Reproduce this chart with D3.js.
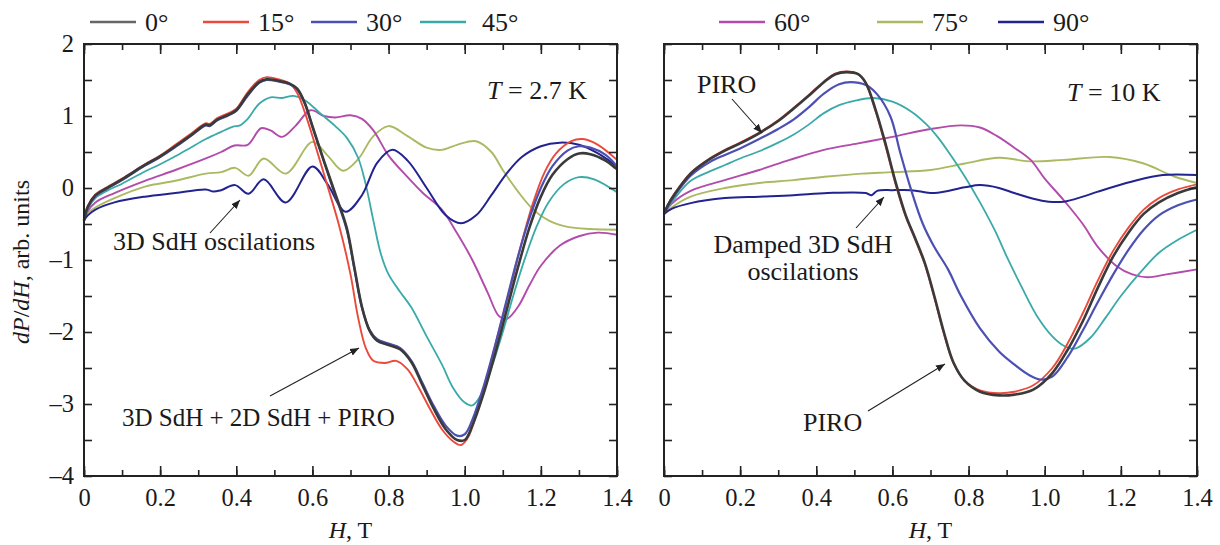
<!DOCTYPE html>
<html>
<head>
<meta charset="utf-8">
<script src="https://cdn.jsdelivr.net/npm/d3@7/dist/d3.min.js"></script>
<style>
  html, body { margin: 0; padding: 0; background: #fff; }
  svg { display: block; font-family: "Liberation Serif", "Times New Roman", serif; }
</style>
</head>
<body>
<svg id="chart" width="1220" height="545"></svg>
<script>
// ---- data: dP/dH (arb. units) versus H (T) for each tilt angle ----
const angleLabels = ["0°", "15°", "30°", "45°", "60°", "75°", "90°"];
const xTickValues = [0, 0.2, 0.4, 0.6, 0.8, 1.0, 1.2, 1.4];
const yTickValues = [2, 1, 0, -1, -2, -3, -4];
const yTickLabels = ["2", "1", "0", "–1", "–2", "–3", "–4"];

// T = 2.7 K
const cold0 = [[0,-0.45],[0.01,-0.26],[0.03,-0.1],[0.06,0.0],[0.1,0.12],[0.16,0.32],[0.2,0.44],[0.24,0.58],[0.28,0.73],[0.32,0.88],[0.33,0.87],[0.35,0.95],[0.38,1.02],[0.4,1.08],[0.43,1.3],[0.46,1.47],[0.48,1.51],[0.51,1.49],[0.54,1.45],[0.56,1.38],[0.58,1.18],[0.6,0.86],[0.63,0.38],[0.66,-0.08],[0.69,-0.55],[0.71,-1.1],[0.73,-1.65],[0.75,-1.98],[0.77,-2.12],[0.8,-2.18],[0.83,-2.24],[0.86,-2.42],[0.89,-2.75],[0.92,-3.08],[0.95,-3.35],[0.98,-3.5],[1.0,-3.5],[1.02,-3.3],[1.05,-2.85],[1.08,-2.3],[1.11,-1.7],[1.14,-1.1],[1.17,-0.55],[1.2,-0.12],[1.23,0.18],[1.27,0.4],[1.3,0.48],[1.33,0.47],[1.37,0.38],[1.4,0.26]];
const cold15 = [[0,-0.45],[0.01,-0.25],[0.03,-0.09],[0.06,0.01],[0.1,0.13],[0.16,0.33],[0.2,0.45],[0.24,0.6],[0.28,0.75],[0.32,0.9],[0.33,0.89],[0.35,0.97],[0.38,1.04],[0.4,1.1],[0.43,1.33],[0.46,1.5],[0.48,1.54],[0.51,1.51],[0.54,1.45],[0.56,1.32],[0.58,1.05],[0.61,0.55],[0.64,0.02],[0.67,-0.52],[0.7,-1.2],[0.72,-1.8],[0.74,-2.22],[0.76,-2.4],[0.79,-2.43],[0.82,-2.4],[0.85,-2.52],[0.88,-2.78],[0.91,-3.08],[0.94,-3.35],[0.97,-3.52],[0.99,-3.57],[1.01,-3.45],[1.03,-3.15],[1.06,-2.6],[1.09,-1.98],[1.12,-1.38],[1.15,-0.75],[1.18,-0.2],[1.21,0.22],[1.24,0.48],[1.28,0.65],[1.31,0.68],[1.35,0.6],[1.4,0.39]];
const cold30 = [[0,-0.45],[0.01,-0.27],[0.03,-0.11],[0.06,-0.01],[0.1,0.11],[0.16,0.31],[0.2,0.43],[0.24,0.57],[0.28,0.72],[0.32,0.87],[0.33,0.86],[0.35,0.94],[0.38,1.01],[0.4,1.07],[0.43,1.28],[0.46,1.46],[0.48,1.5],[0.51,1.48],[0.54,1.44],[0.56,1.37],[0.58,1.17],[0.6,0.85],[0.63,0.37],[0.66,-0.1],[0.69,-0.58],[0.71,-1.12],[0.73,-1.66],[0.75,-1.97],[0.77,-2.1],[0.8,-2.16],[0.83,-2.22],[0.86,-2.4],[0.89,-2.72],[0.92,-3.04],[0.95,-3.3],[0.98,-3.44],[1.0,-3.42],[1.02,-3.22],[1.05,-2.75],[1.08,-2.18],[1.11,-1.56],[1.14,-0.95],[1.17,-0.42],[1.2,0.0],[1.23,0.3],[1.27,0.52],[1.3,0.58],[1.33,0.56],[1.37,0.46],[1.4,0.3]];
const cold45 = [[0,-0.45],[0.01,-0.29],[0.03,-0.14],[0.06,-0.04],[0.1,0.06],[0.16,0.23],[0.2,0.33],[0.24,0.44],[0.28,0.56],[0.32,0.68],[0.36,0.78],[0.39,0.85],[0.41,0.87],[0.43,0.96],[0.46,1.17],[0.49,1.26],[0.52,1.25],[0.55,1.28],[0.58,1.22],[0.62,1.04],[0.66,0.86],[0.69,0.7],[0.72,0.42],[0.74,0.05],[0.76,-0.45],[0.78,-0.92],[0.8,-1.2],[0.83,-1.44],[0.86,-1.66],[0.9,-2.06],[0.94,-2.45],[0.97,-2.78],[1.0,-2.98],[1.02,-3.02],[1.04,-2.9],[1.07,-2.5],[1.1,-2.0],[1.13,-1.45],[1.16,-0.95],[1.19,-0.52],[1.22,-0.2],[1.26,0.05],[1.3,0.15],[1.34,0.12],[1.4,-0.06]];
const cold60 = [[0,-0.45],[0.01,-0.32],[0.03,-0.2],[0.08,-0.07],[0.16,0.1],[0.24,0.25],[0.32,0.41],[0.36,0.5],[0.395,0.59],[0.43,0.6],[0.465,0.83],[0.49,0.8],[0.52,0.71],[0.555,0.86],[0.595,1.08],[0.63,1.0],[0.66,0.98],[0.7,1.01],[0.73,0.96],[0.76,0.8],[0.8,0.45],[0.85,0.15],[0.89,-0.07],[0.94,-0.3],[0.98,-0.63],[1.02,-1.0],[1.06,-1.45],[1.09,-1.78],[1.11,-1.82],[1.14,-1.65],[1.17,-1.35],[1.2,-1.08],[1.25,-0.8],[1.3,-0.67],[1.35,-0.62],[1.4,-0.65]];
const cold75 = [[0,-0.45],[0.01,-0.35],[0.03,-0.27],[0.08,-0.14],[0.16,0.02],[0.24,0.1],[0.32,0.2],[0.36,0.22],[0.397,0.28],[0.432,0.17],[0.472,0.41],[0.53,0.2],[0.6,0.64],[0.64,0.45],[0.68,0.24],[0.72,0.4],[0.76,0.72],[0.8,0.86],[0.85,0.72],[0.9,0.56],[0.94,0.53],[0.98,0.6],[1.03,0.65],[1.07,0.5],[1.1,0.25],[1.14,-0.05],[1.18,-0.3],[1.22,-0.45],[1.27,-0.54],[1.33,-0.57],[1.4,-0.58]];
const cold90 = [[0,-0.45],[0.01,-0.38],[0.03,-0.3],[0.08,-0.2],[0.16,-0.12],[0.24,-0.07],[0.32,-0.02],[0.34,-0.05],[0.36,-0.03],[0.397,0.04],[0.432,-0.08],[0.472,0.12],[0.53,-0.2],[0.6,0.3],[0.64,0.05],[0.687,-0.33],[0.73,-0.1],[0.77,0.35],[0.81,0.53],[0.85,0.38],[0.9,0.0],[0.95,-0.38],[0.99,-0.49],[1.03,-0.38],[1.07,-0.1],[1.11,0.2],[1.15,0.43],[1.2,0.58],[1.25,0.63],[1.3,0.6],[1.35,0.48],[1.4,0.3]];

// T = 10 K
const warm0 = [[0,-0.36],[0.01,-0.24],[0.03,-0.07],[0.07,0.2],[0.12,0.4],[0.16,0.52],[0.2,0.62],[0.25,0.76],[0.3,0.93],[0.34,1.1],[0.38,1.28],[0.42,1.47],[0.45,1.58],[0.48,1.61],[0.51,1.58],[0.53,1.46],[0.555,1.1],[0.58,0.65],[0.61,0.05],[0.635,-0.38],[0.66,-0.7],[0.685,-1.04],[0.71,-1.5],[0.735,-2.0],[0.76,-2.42],[0.79,-2.68],[0.83,-2.83],[0.88,-2.88],[0.92,-2.87],[0.97,-2.8],[1.02,-2.57],[1.06,-2.25],[1.1,-1.85],[1.14,-1.38],[1.18,-0.95],[1.22,-0.62],[1.26,-0.36],[1.3,-0.2],[1.35,-0.07],[1.4,0.01]];
const warm15 = [[0,-0.36],[0.01,-0.23],[0.03,-0.06],[0.07,0.21],[0.12,0.41],[0.16,0.53],[0.2,0.63],[0.25,0.77],[0.3,0.94],[0.34,1.11],[0.38,1.29],[0.42,1.48],[0.45,1.59],[0.48,1.62],[0.51,1.58],[0.53,1.45],[0.555,1.08],[0.58,0.62],[0.61,0.02],[0.635,-0.4],[0.66,-0.72],[0.685,-1.06],[0.71,-1.52],[0.735,-2.02],[0.76,-2.43],[0.79,-2.68],[0.83,-2.81],[0.88,-2.85],[0.92,-2.83],[0.97,-2.74],[1.02,-2.5],[1.06,-2.16],[1.1,-1.74],[1.14,-1.28],[1.18,-0.87],[1.22,-0.55],[1.26,-0.3],[1.3,-0.14],[1.35,-0.02],[1.4,0.05]];
const warm30 = [[0,-0.36],[0.01,-0.25],[0.03,-0.09],[0.07,0.17],[0.12,0.36],[0.16,0.46],[0.2,0.55],[0.25,0.68],[0.3,0.82],[0.34,0.95],[0.38,1.12],[0.42,1.31],[0.46,1.44],[0.49,1.47],[0.53,1.43],[0.56,1.3],[0.595,0.99],[0.62,0.5],[0.65,-0.04],[0.68,-0.5],[0.71,-0.82],[0.745,-1.12],[0.78,-1.5],[0.83,-1.95],[0.88,-2.27],[0.92,-2.45],[0.96,-2.6],[0.99,-2.66],[1.02,-2.62],[1.06,-2.35],[1.1,-1.98],[1.14,-1.58],[1.18,-1.2],[1.22,-0.86],[1.26,-0.58],[1.3,-0.38],[1.35,-0.24],[1.4,-0.16]];
const warm45 = [[0,-0.36],[0.01,-0.27],[0.03,-0.13],[0.07,0.1],[0.12,0.23],[0.16,0.32],[0.2,0.41],[0.25,0.51],[0.3,0.63],[0.34,0.74],[0.38,0.88],[0.42,1.04],[0.46,1.15],[0.5,1.21],[0.55,1.25],[0.6,1.2],[0.65,1.06],[0.69,0.88],[0.72,0.7],[0.75,0.48],[0.79,0.16],[0.83,-0.2],[0.87,-0.6],[0.9,-0.95],[0.94,-1.38],[0.98,-1.78],[1.02,-2.06],[1.05,-2.19],[1.08,-2.23],[1.12,-2.08],[1.16,-1.8],[1.2,-1.5],[1.25,-1.18],[1.3,-0.9],[1.35,-0.72],[1.4,-0.58]];
const warm60 = [[0,-0.36],[0.02,-0.22],[0.07,-0.04],[0.16,0.11],[0.25,0.25],[0.33,0.39],[0.42,0.53],[0.51,0.62],[0.6,0.71],[0.7,0.82],[0.78,0.87],[0.83,0.84],[0.875,0.72],[0.92,0.56],[0.963,0.39],[1.0,0.13],[1.05,-0.17],[1.1,-0.5],[1.14,-0.82],[1.19,-1.09],[1.23,-1.2],[1.27,-1.24],[1.32,-1.2],[1.4,-1.13]];
const warm75 = [[0,-0.36],[0.02,-0.27],[0.07,-0.12],[0.16,0.0],[0.25,0.07],[0.34,0.11],[0.43,0.16],[0.52,0.2],[0.6,0.22],[0.7,0.25],[0.79,0.34],[0.88,0.42],[0.96,0.37],[1.05,0.39],[1.17,0.43],[1.26,0.34],[1.34,0.16],[1.4,0.07]];
const warm90 = [[0,-0.36],[0.02,-0.29],[0.07,-0.21],[0.16,-0.14],[0.25,-0.12],[0.34,-0.1],[0.43,-0.07],[0.53,-0.07],[0.545,-0.1],[0.56,-0.04],[0.6,-0.03],[0.65,-0.03],[0.71,-0.07],[0.79,0.01],[0.83,0.04],[0.88,0.0],[0.92,-0.07],[0.97,-0.15],[1.01,-0.19],[1.05,-0.19],[1.1,-0.12],[1.14,-0.05],[1.23,0.09],[1.31,0.18],[1.4,0.18]];

// ---- styling ----
const angleColors = ["#3a3a3a", "#ea4a3c", "#4c50b2", "#3aaaa9", "#b24bab", "#abba62", "#22238f"];
const legendColors = ["#666666", "#ea4a3c", "#4c50b2", "#3aaaa9", "#b24bab", "#abba62", "#22238f"];
const angleWidths = [2.6, 1.9, 2.2, 1.8, 1.9, 1.9, 2.0];
const drawOrder = [5, 4, 3, 6, 1, 2, 0];

const svg = d3.select("#chart");
const TICK_FONT = 24.5;
const NOTE_FONT = 26;
const plotTop = 44, plotBottom = 476;
const panels = [
  { x0: 84,  x1: 617, series: [cold0, cold15, cold30, cold45, cold60, cold75, cold90], yLabels: true },
  { x0: 664, x1: 1197, series: [warm0, warm15, warm30, warm45, warm60, warm75, warm90], yLabels: false }
];

const y = d3.scaleLinear().domain([-4, 2]).range([plotBottom, plotTop]);
const minorX = d3.range(0, 15).map(i => +(i * 0.1).toFixed(1));
const minorY = d3.range(-8, 5).map(i => i * 0.5);

function styleAxis(g) {
  g.select(".domain").remove();
  g.selectAll(".tick line").attr("stroke", "#222").attr("stroke-width", 1.6);
  g.selectAll(".tick text").attr("font-family", "Liberation Serif").attr("font-size", TICK_FONT).attr("fill", "#1a1a1a");
}

panels.forEach(p => {
  const x = d3.scaleLinear().domain([0, 1.4]).range([p.x0, p.x1]);
  const g = svg.append("g");

  // curves
  const line = d3.line().x(d => x(d[0])).y(d => y(d[1])).curve(d3.curveCatmullRom.alpha(0.5));
  drawOrder.forEach(i => {
    g.append("path").datum(p.series[i])
      .attr("d", line)
      .attr("fill", "none")
      .attr("stroke", angleColors[i])
      .attr("stroke-width", angleWidths[i])
      .attr("stroke-linejoin", "round");
  });

  // inward ticks on all four sides
  g.append("g").attr("transform", `translate(0,${plotBottom})`)
    .call(d3.axisBottom(x).tickValues(minorX).tickSize(-6).tickFormat(""))
    .call(styleAxis);
  g.append("g").attr("transform", `translate(0,${plotBottom})`)
    .call(d3.axisBottom(x).tickValues(xTickValues).tickSize(-10).tickPadding(13)
      .tickFormat(d => d === 0 ? "0" : d.toFixed(1)))
    .call(styleAxis);
  g.append("g").attr("transform", `translate(0,${plotTop})`)
    .call(d3.axisTop(x).tickValues(minorX).tickSize(-6).tickFormat(""))
    .call(styleAxis);
  g.append("g").attr("transform", `translate(0,${plotTop})`)
    .call(d3.axisTop(x).tickValues(xTickValues).tickSize(-10).tickFormat(""))
    .call(styleAxis);
  g.append("g").attr("transform", `translate(${p.x0},0)`)
    .call(d3.axisLeft(y).tickValues(minorY).tickSize(-8).tickFormat(""))
    .call(styleAxis);
  g.append("g").attr("transform", `translate(${p.x1},0)`)
    .call(d3.axisRight(y).tickValues(minorY).tickSize(-8).tickFormat(""))
    .call(styleAxis);
  if (p.yLabels) {
    g.append("g").attr("transform", `translate(${p.x0},0)`)
      .call(d3.axisLeft(y).tickValues(yTickValues).tickSize(0).tickPadding(10)
        .tickFormat((d, i) => yTickLabels[i]))
      .call(styleAxis);
  }

  // frame
  g.append("rect").attr("x", p.x0).attr("y", plotTop)
    .attr("width", p.x1 - p.x0).attr("height", plotBottom - plotTop)
    .attr("fill", "none").attr("stroke", "#222").attr("stroke-width", 2);

  // x-axis title
  const xt = g.append("text").attr("x", (p.x0 + p.x1) / 2).attr("y", 538)
    .attr("text-anchor", "middle").attr("font-size", 24).attr("fill", "#1a1a1a");
  xt.append("tspan").attr("font-style", "italic").text("H");
  xt.append("tspan").text(", T");
});

// y-axis title
const yt = svg.append("text").attr("transform", "translate(29,262) rotate(-90)")
  .attr("text-anchor", "middle").attr("font-size", 24).attr("fill", "#1a1a1a");
yt.append("tspan").attr("font-style", "italic").text("dP");
yt.append("tspan").text("/");
yt.append("tspan").attr("font-style", "italic").text("dH");
yt.append("tspan").text(", arb. units");

// legend across the top
const legendX = [90, 203, 311, 420, 719, 877, 998];
angleLabels.forEach((lab, i) => {
  const lg = svg.append("g").attr("transform", `translate(${legendX[i]},22)`);
  lg.append("line").attr("x1", 0).attr("x2", 46).attr("y1", 0).attr("y2", 0)
    .attr("stroke", legendColors[i]).attr("stroke-width", 2.5);
  lg.append("text").attr("x", 55 + (i === 3 ? 7 : 0)).attr("y", 9)
    .attr("font-size", 26).attr("fill", "#1a1a1a").text(lab);
});

// annotations
svg.append("defs").append("marker").attr("id", "arrow")
  .attr("viewBox", "0 0 10 10").attr("refX", 10).attr("refY", 5)
  .attr("markerWidth", 9).attr("markerHeight", 9).attr("markerUnits", "userSpaceOnUse")
  .attr("orient", "auto")
  .append("path").attr("d", "M0,1 L10,5 L0,9 Z").attr("fill", "#222");

function arrow(x1, y1, x2, y2) {
  svg.append("line").attr("x1", x1).attr("y1", y1).attr("x2", x2).attr("y2", y2)
    .attr("stroke", "#222").attr("stroke-width", 1.1).attr("marker-end", "url(#arrow)");
}
function label(x, yy, txt, anchor, size) {
  return svg.append("text").attr("x", x).attr("y", yy).attr("font-size", size || NOTE_FONT)
    .attr("fill", "#1a1a1a").attr("text-anchor", anchor || "start").text(txt);
}

function tempLabel(x, yy, rest) {
  const t = svg.append("text").attr("x", x).attr("y", yy).attr("font-size", NOTE_FONT).attr("fill", "#1a1a1a");
  t.append("tspan").attr("font-style", "italic").text("T");
  t.append("tspan").text(" = " + rest);
}
tempLabel(487, 99, "2.7 K");
tempLabel(1067, 101, "10 K");

label(113, 250, "3D SdH oscilations");
arrow(210, 233, 240, 200);

label(122, 426, "3D SdH + 2D SdH + PIRO", "start", 25);
arrow(270, 396, 359, 348);

label(697, 93, "PIRO");
arrow(732, 99, 762, 133);

label(803, 253, "Damped 3D SdH", "middle");
label(803, 280, "oscilations", "middle");
arrow(856, 228, 884, 197);

label(803, 431, "PIRO");
arrow(868, 411, 945, 364);
</script>
</body>
</html>
